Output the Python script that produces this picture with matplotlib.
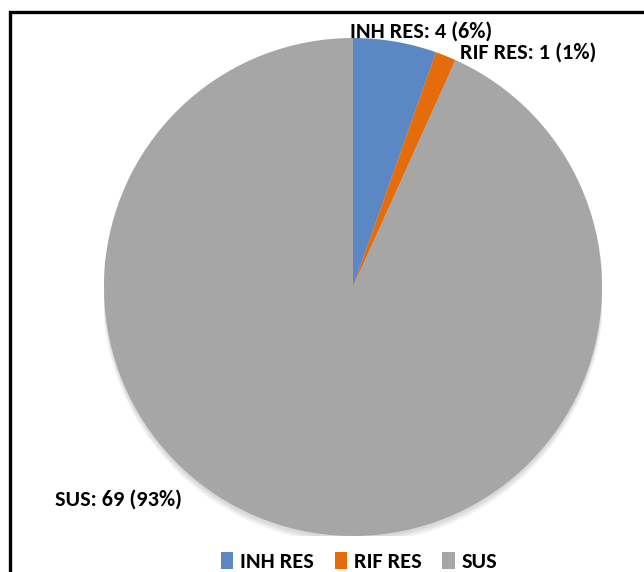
import matplotlib
matplotlib.use("Agg")
import matplotlib.pyplot as plt
from matplotlib.patches import Rectangle, Ellipse

labels = ["INH RES", "RIF RES", "SUS"]
values = [4, 1, 69]
pct_labels = [6, 1, 93]          # percentages as printed on the chart
colors = ["#5B87C5", "#E46C0A", "#A6A6A6"]

W, H = 644, 572
fig = plt.figure(figsize=(W/100, H/100), dpi=100)
fig.patch.set_facecolor("white")

FAM = ["Carlito", "DejaVu Sans"]
FS = 16

cx, cy, r = 353, 287, 249
ax = fig.add_axes([(cx - r)/W, 1 - (cy + r)/H, 2*r/W, 2*r/H])
# soft shadow
for i, a in enumerate([0.05, 0.05, 0.05]):
    ax.add_patch(Ellipse((0.0, -0.012 - i*0.006), 2.0 + i*0.006, 2.0 + i*0.006,
                         color="black", alpha=a, lw=0, zorder=0))
wedges, _ = ax.pie(values, colors=colors, startangle=90, counterclock=False,
                   radius=1, wedgeprops=dict(linewidth=0))
ax.set_xlim(-1, 1)
ax.set_ylim(-1, 1)
ax.set_aspect("equal")
ax.axis("off")

txt = [f"{l}: {v} ({p}%)" for l, v, p in zip(labels, values, pct_labels)]
kw = dict(ha="left", va="baseline", fontsize=FS, family=FAM, weight="bold")
fig.text(350/W, 1 - 38/H, txt[0], **kw)
fig.text(460/W, 1 - 58.5/H, txt[1], **kw)
fig.text(55/W, 1 - 506/H, txt[2], **kw)

# legend
leg = fig.legend(wedges, labels, loc="center", bbox_to_anchor=(359/W, 1 - 562/H),
                 ncol=3, frameon=False, prop=dict(family=FAM, weight="bold", size=FS),
                 handlelength=0.55, handleheight=0.8, handletextpad=0.3, columnspacing=0.95,
                 borderpad=0, borderaxespad=0)

# outer frame
fig.add_artist(Rectangle((10/W, -0.1), 1.2, 1 - 12/H + 0.1, transform=fig.transFigure,
                         fill=False, edgecolor="black", linewidth=2.4))

fig.savefig("out.png", dpi=100)
